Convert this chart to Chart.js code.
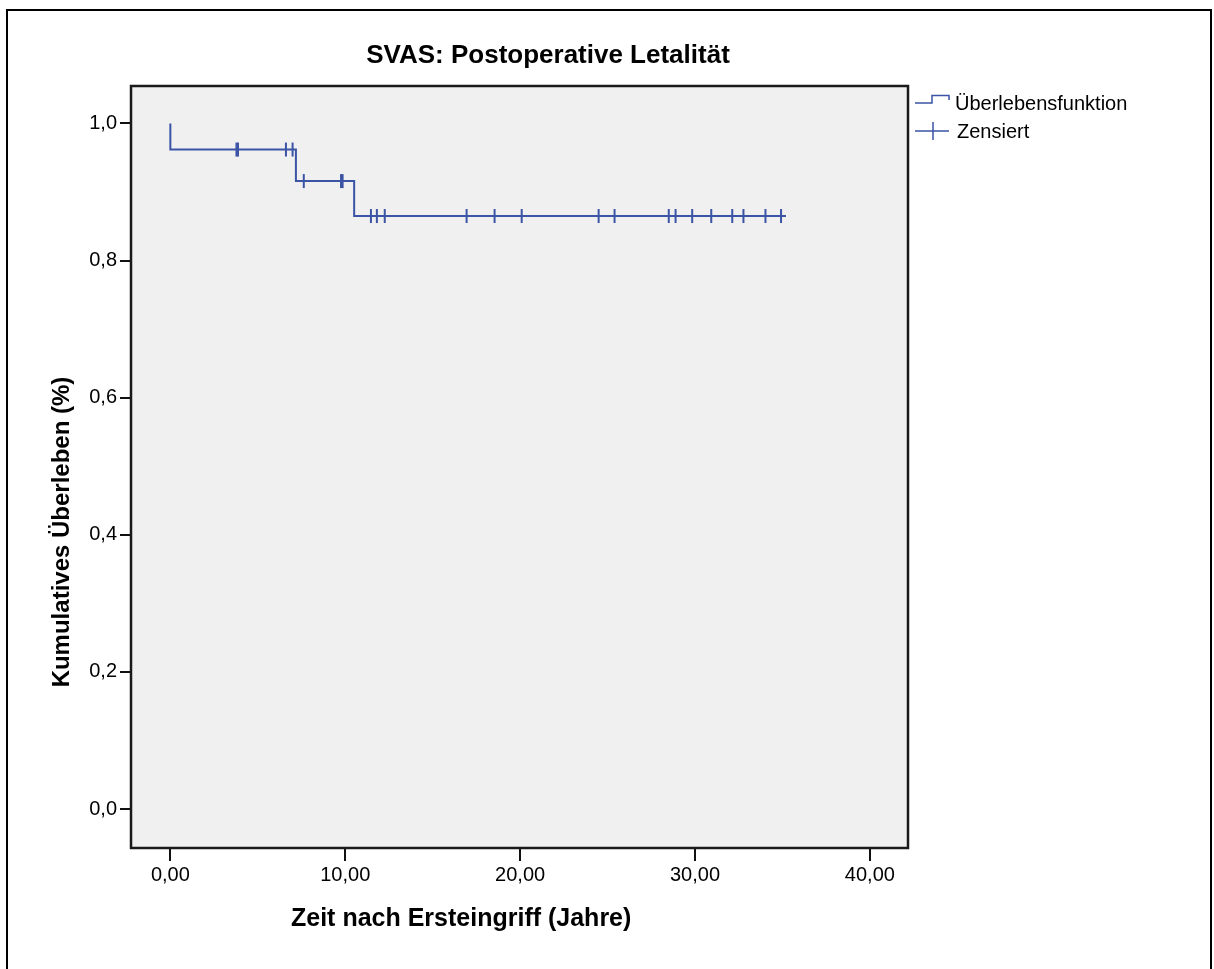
<!DOCTYPE html>
<html>
<head>
<meta charset="utf-8">
<script src="https://cdn.jsdelivr.net/npm/chart.js@4"></script>
<style>
  html, body { margin: 0; padding: 0; background: #fff; overflow: hidden; }
  #wrap { width: 1214px; height: 969px; }
</style>
</head>
<body>
<div id="wrap"><canvas id="kmChart" width="1214" height="969"></canvas></div>
<script>
// Kaplan-Meier steps (time in years, cumulative survival)
const stepTimes = [0, 0, 7.18, 10.51, 35.2];
const stepSurvival = [1.0, 0.962, 0.916, 0.865, 0.865];

// censored observations
const censorTimes = [3.78, 3.87, 6.61, 6.99, 7.63, 9.76, 9.85, 11.47, 11.81, 12.26, 16.94, 18.54,
  20.09, 24.49, 25.4, 28.5, 28.89, 29.84, 30.93, 32.13, 32.77, 34.03, 34.92];
const censorSurvival = [0.962, 0.962, 0.962, 0.962, 0.916, 0.916, 0.916, 0.865, 0.865, 0.865, 0.865, 0.865,
  0.865, 0.865, 0.865, 0.865, 0.865, 0.865, 0.865, 0.865, 0.865, 0.865, 0.865];

const xTicks = [0, 10, 20, 30, 40];
const yTicks = [0, 0.2, 0.4, 0.6, 0.8, 1.0];

const chartTitle = 'SVAS: Postoperative Letalität';
const xTitle = 'Zeit nach Ersteingriff (Jahre)';
const yTitle = 'Kumulatives Überleben (%)';
const legendLabels = ['Überlebensfunktion', 'Zensiert'];

const lineColor = '#3b54a5';
const fontFamily = "'Liberation Sans', Arial, sans-serif";

// frame, plot background, titles and legend the way SPSS draws them
const spssDecor = {
  id: 'spssDecor',
  beforeDraw(chart) {
    const { ctx, chartArea: a } = chart;
    ctx.save();
    ctx.fillStyle = '#fff';
    ctx.fillRect(0, 0, chart.width, chart.height);
    ctx.strokeStyle = '#000';
    ctx.lineWidth = 2;
    ctx.strokeRect(7, 10, 1204, 980);
    ctx.fillStyle = '#f0f0f0';
    ctx.fillRect(a.left, a.top, a.right - a.left, a.bottom - a.top);
    ctx.restore();
  },
  afterDraw(chart) {
    const { ctx, chartArea: a } = chart;
    ctx.save();
    // plot border
    ctx.strokeStyle = '#1a1a1a';
    ctx.lineWidth = 2.5;
    ctx.strokeRect(a.left, a.top, a.right - a.left, a.bottom - a.top);

    ctx.fillStyle = '#000';
    ctx.textBaseline = 'alphabetic';

    // title
    ctx.font = 'bold 26px ' + fontFamily;
    ctx.textAlign = 'center';
    ctx.fillText(chartTitle, 548, 63);

    // x axis title
    ctx.font = 'bold 25px ' + fontFamily;
    ctx.textAlign = 'left';
    ctx.fillText(xTitle, 291, 926);

    // y axis title
    ctx.save();
    ctx.font = 'bold 24px ' + fontFamily;
    ctx.translate(69, 532);
    ctx.rotate(-Math.PI / 2);
    ctx.textAlign = 'center';
    ctx.fillText(yTitle, 0, 0);
    ctx.restore();

    // legend
    const lx = a.right + 7;
    ctx.strokeStyle = lineColor;
    ctx.lineWidth = 1.5;
    ctx.beginPath();
    ctx.moveTo(lx, 103);
    ctx.lineTo(lx + 17, 103);
    ctx.lineTo(lx + 17, 95.5);
    ctx.lineTo(lx + 34, 95.5);
    ctx.lineTo(lx + 34, 100);
    ctx.stroke();
    ctx.beginPath();
    ctx.moveTo(lx, 131);
    ctx.lineTo(lx + 34, 131);
    ctx.moveTo(lx + 18, 122);
    ctx.lineTo(lx + 18, 140);
    ctx.stroke();

    ctx.font = '20px ' + fontFamily;
    ctx.fillStyle = '#000';
    ctx.textAlign = 'left';
    ctx.fillText(legendLabels[0], lx + 40, 110);
    ctx.fillText(legendLabels[1], lx + 42, 138);
    ctx.restore();
  }
};

const ctx = document.getElementById('kmChart').getContext('2d');
new Chart(ctx, {
  type: 'line',
  data: {
    datasets: [
      {
        label: legendLabels[0],
        data: stepTimes.map((t, i) => ({ x: t, y: stepSurvival[i] })),
        borderColor: lineColor,
        borderWidth: 2,
        stepped: 'before',
        pointRadius: 0,
        fill: false,
      },
      {
        label: legendLabels[1],
        data: censorTimes.map((t, i) => ({ x: t, y: censorSurvival[i] })),
        showLine: false,
        pointStyle: 'line',
        rotation: 90,
        pointRadius: 7,
        pointBorderWidth: 2,
        borderColor: lineColor,
        backgroundColor: lineColor,
      },
    ],
  },
  options: {
    responsive: false,
    animation: false,
    events: [],
    layout: { padding: { top: 86, right: 306, left: 0, bottom: 0 } },
    scales: {
      x: {
        type: 'linear',
        min: -2.25,
        max: 42.18,
        afterFit: (scale) => { scale.height = 121; },
        afterBuildTicks: (scale) => { scale.ticks = xTicks.map(v => ({ value: v })); },
        grid: { drawOnChartArea: false, drawTicks: true, tickLength: 13, color: '#111', lineWidth: 2 },
        border: { display: false },
        ticks: {
          padding: 2,
          color: '#000',
          font: { family: fontFamily, size: 20 },
          maxRotation: 0,
          callback: (v) => v.toFixed(2).replace('.', ','),
        },
      },
      y: {
        type: 'linear',
        min: -0.0569,
        max: 1.0547,
        afterFit: (scale) => { scale.width = 131; },
        afterBuildTicks: (scale) => { scale.ticks = yTicks.map(v => ({ value: v })); },
        grid: { drawOnChartArea: false, drawTicks: true, tickLength: 11, color: '#111', lineWidth: 2 },
        border: { display: false },
        ticks: {
          padding: 3,
          color: '#000',
          font: { family: fontFamily, size: 20 },
          callback: (v) => v.toFixed(1).replace('.', ','),
        },
      },
    },
    plugins: {
      legend: { display: false },
      title: { display: false },
      tooltip: { enabled: false },
    },
  },
  plugins: [spssDecor],
});
</script>
</body>
</html>
